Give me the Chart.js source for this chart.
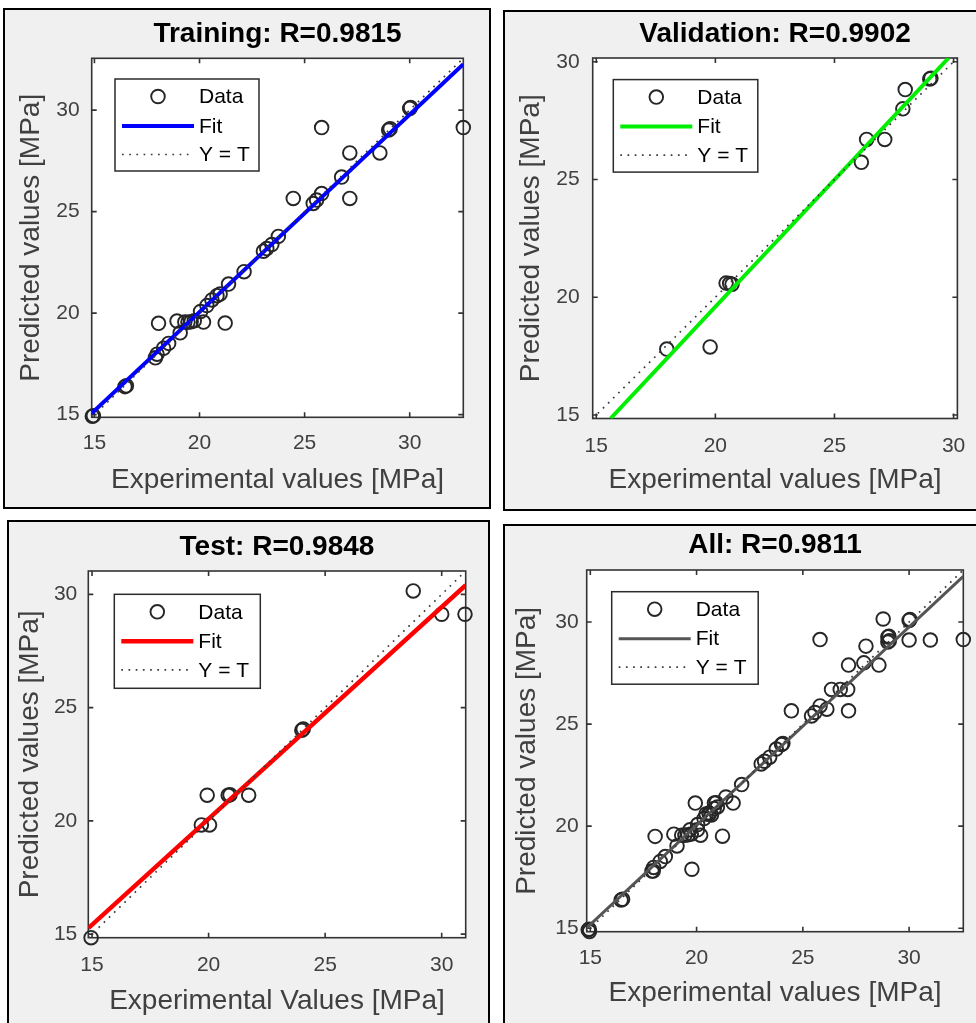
<!DOCTYPE html>
<html>
<head>
<meta charset="utf-8">
<title>Regression plots</title>
<script src="https://cdn.jsdelivr.net/npm/chart.js@4.4.1/dist/chart.umd.min.js"></script>
<style>
  html, body { margin: 0; padding: 0; background: #fff; width: 976px; height: 1023px; overflow: hidden; }
  .panel { position: absolute; box-sizing: border-box; border: 2px solid #000; background: #f0f0f0; overflow: hidden; }
  .panel canvas { position: absolute; left: 0; top: 0; }
</style>
</head>
<body>
<div class="panel" style="left:3px;top:8px;width:488px;height:501px"><canvas id="c-training" width="484" height="497"></canvas></div>
<div class="panel" style="left:503px;top:10px;width:480px;height:501px"><canvas id="c-validation" width="476" height="497"></canvas></div>
<div class="panel" style="left:7px;top:520px;width:483px;height:505px"><canvas id="c-test" width="479" height="501"></canvas></div>
<div class="panel" style="left:503px;top:524px;width:480px;height:505px"><canvas id="c-all" width="476" height="501"></canvas></div>

<script>
// ---- data ----
const axisTicks = [15, 20, 25, 30];

const trainingExperimental = [14.90, 14.95, 16.45, 16.52, 17.90, 17.98, 18.29, 18.53, 18.05, 19.08,
  18.93, 19.30, 19.45, 19.60, 19.75, 20.19, 21.22, 20.05, 20.35, 20.59, 20.83, 20.98, 21.38, 22.12,
  23.04, 23.20, 23.44, 23.75, 24.46, 25.41, 25.57, 25.81, 25.81, 26.76, 27.15, 27.15, 28.58,
  29.00, 29.07, 30.00, 30.04, 32.55];
const trainingPredicted = [14.92, 14.95, 16.38, 16.42, 17.80, 17.98, 18.27, 18.51, 19.50, 19.03,
  19.61, 19.56, 19.55, 19.58, 19.62, 19.56, 19.51, 20.08, 20.37, 20.65, 20.86, 20.94, 21.43, 22.04,
  23.05, 23.18, 23.38, 23.78, 25.65, 25.40, 25.57, 25.89, 29.14, 26.70, 25.65, 27.89, 27.89,
  29.02, 29.08, 30.08, 30.13, 29.14];
const trainingFitX = [14.87, 32.55];
const trainingFitY = [15.07, 32.26];
const trainingLimits = [14.87, 32.55];

const validationExperimental = [17.96, 19.78, 20.45, 20.60, 20.70, 26.13, 26.35, 27.11, 27.87, 27.97, 29.00, 29.05];
const validationPredicted = [17.80, 17.89, 20.60, 20.58, 20.55, 25.73, 26.70, 26.70, 28.00, 28.82, 29.27, 29.30];
const validationFitX = [15.60, 29.79];
const validationFitY = [14.85, 30.16];
const validationLimits = [14.85, 30.16];

const testExperimental = [14.96, 19.69, 20.04, 19.94, 20.84, 20.92, 21.72, 24.00, 24.06, 28.78, 30.00, 31.00];
const testPredicted = [14.84, 19.82, 19.82, 21.13, 21.13, 21.15, 21.13, 24.00, 24.05, 30.15, 29.12, 29.12];
const testFitX = [14.84, 31.03];
const testFitY = [15.26, 30.40];
const testLimits = [14.84, 31.03];

const allExperimental = [...trainingExperimental, ...validationExperimental, ...testExperimental];
const allPredicted = [...trainingPredicted, ...validationPredicted, ...testPredicted];
const allFitX = [14.83, 32.55];
const allFitY = [15.02, 32.24];
const allLimits = [14.83, 32.55];

// ---- drawing ----
const FONT = "'Liberation Sans', Arial, Helvetica, sans-serif";
const AXIS_GREY = '#404040';

const pairs = (xs, ys) => xs.map((x, i) => ({ x: x, y: ys[i] }));

// White plot box, boxed axes with inward ticks on all four sides, and the in-axes legend
const panelFrame = {
  id: 'panelFrame',
  beforeDraw(chart) {
    const { ctx, chartArea: a } = chart;
    ctx.save();
    ctx.fillStyle = '#fff';
    ctx.fillRect(a.left, a.top, a.right - a.left, a.bottom - a.top);
    ctx.restore();
  },
  beforeDatasetsDraw(chart) {
    const { ctx, chartArea: a, scales } = chart;
    ctx.save();
    ctx.strokeStyle = '#333';
    ctx.lineWidth = 1.6;
    const tl = 5;
    ctx.beginPath();
    axisTicks.forEach(v => {
      const px = scales.x.getPixelForValue(v);
      if (px > a.left + 1 && px < a.right - 1) {
        ctx.moveTo(px, a.bottom); ctx.lineTo(px, a.bottom - tl);
        ctx.moveTo(px, a.top); ctx.lineTo(px, a.top + tl);
      }
      const py = scales.y.getPixelForValue(v);
      if (py > a.top + 1 && py < a.bottom - 1) {
        ctx.moveTo(a.left, py); ctx.lineTo(a.left + tl, py);
        ctx.moveTo(a.right, py); ctx.lineTo(a.right - tl, py);
      }
    });
    ctx.stroke();
    ctx.strokeRect(a.left, a.top, a.right - a.left, a.bottom - a.top);
    ctx.restore();
  },
  afterDatasetsDraw(chart, args, o) {
    const { ctx, chartArea: a } = chart;
    const lx = a.left + o.x, ly = a.top + o.y;
    ctx.save();
    ctx.fillStyle = '#fff';
    ctx.fillRect(lx, ly, o.w, o.h);
    ctx.strokeStyle = '#2b2b2b';
    ctx.lineWidth = 1.5;
    ctx.strokeRect(lx, ly, o.w, o.h);
    const rows = chart.data.datasets.slice().reverse();
    const rowY = [17.5, 47, 75.5];
    rows.forEach((ds, i) => {
      const cy = ly + rowY[i];
      if (!ds.showLine) {
        ctx.beginPath();
        ctx.setLineDash([]);
        ctx.strokeStyle = ds.borderColor;
        ctx.lineWidth = ds.borderWidth;
        ctx.arc(lx + 43, cy, ds.pointRadius, 0, Math.PI * 2);
        ctx.stroke();
      } else {
        ctx.beginPath();
        ctx.setLineDash(ds.borderDash || []);
        ctx.strokeStyle = ds.borderColor;
        ctx.lineWidth = ds.borderWidth;
        ctx.moveTo(lx + 7, cy);
        ctx.lineTo(lx + 79, cy);
        ctx.stroke();
        ctx.setLineDash([]);
      }
      ctx.fillStyle = '#000';
      ctx.font = '21px ' + FONT;
      ctx.textBaseline = 'middle';
      ctx.textAlign = 'left';
      ctx.fillText(ds.label, lx + 84, cy + 1);
    });
    ctx.restore();
  }
};

function buildPanel(canvasId, spec) {
  const L = spec.layout;
  const lim = spec.limits;
  const fixedTicks = axis => { axis.ticks = axisTicks.map(v => ({ value: v })); };
  const tickFont = { family: FONT, size: 21 };
  const titleFont = { family: FONT, size: 28, lineHeight: 1.2 };
  new Chart(document.getElementById(canvasId), {
    type: 'scatter',
    data: {
      datasets: [
        {
          label: 'Y = T',
          data: [{ x: lim[0], y: lim[0] }, { x: lim[1], y: lim[1] }],
          showLine: true,
          borderColor: '#3a3a3a',
          borderWidth: 1.7,
          borderDash: [1.7, 5.5],
          pointRadius: 0
        },
        {
          label: 'Fit',
          data: pairs(spec.fitX, spec.fitY),
          showLine: true,
          borderColor: spec.fitColor,
          borderWidth: spec.fitWidth,
          pointRadius: 0
        },
        {
          label: 'Data',
          data: pairs(spec.xs, spec.ys),
          showLine: false,
          pointStyle: 'circle',
          pointRadius: 6.8,
          borderWidth: 1.9,
          borderColor: '#262626',
          backgroundColor: 'rgba(0,0,0,0)',
          clip: false
        }
      ]
    },
    options: {
      responsive: false,
      animation: false,
      devicePixelRatio: 1,
      events: [],
      layout: { padding: { left: 0, top: 0, bottom: 0, right: L.padRight } },
      plugins: {
        legend: { display: false },
        tooltip: { enabled: false },
        title: {
          display: true,
          text: spec.title,
          fullSize: false,
          color: '#000',
          font: { family: FONT, size: 28, weight: 'bold', lineHeight: 1.2 },
          padding: { top: L.titleY - 16.8, bottom: L.top - L.titleY - 16.8 }
        },
        panelFrame: spec.legend
      },
      scales: {
        x: {
          type: 'linear',
          min: lim[0],
          max: lim[1],
          afterBuildTicks: fixedTicks,
          afterFit: s => { s.height = L.xHeight; },
          grid: { display: false, drawTicks: false },
          border: { display: false },
          ticks: { autoSkip: false, maxRotation: 0, padding: L.xTickPad, color: AXIS_GREY, font: tickFont },
          title: { display: true, text: spec.xTitle, color: AXIS_GREY, font: titleFont,
                   padding: { top: 0, bottom: L.xTitleY } }
        },
        y: {
          type: 'linear',
          min: lim[0],
          max: lim[1],
          afterBuildTicks: fixedTicks,
          afterFit: s => { s.width = L.left; },
          grid: { display: false, drawTicks: false },
          border: { display: false },
          ticks: { autoSkip: false, padding: L.yTickPad, color: AXIS_GREY, font: tickFont },
          title: { display: true, text: 'Predicted values [MPa]', color: AXIS_GREY, font: titleFont,
                   padding: { top: L.yTitleX - 16.8, bottom: 0 } }
        }
      }
    },
    plugins: [panelFrame]
  });
}

buildPanel('c-training', {
  title: 'Training: R=0.9815',
  xTitle: 'Experimental values [MPa]',
  xs: trainingExperimental, ys: trainingPredicted,
  fitX: trainingFitX, fitY: trainingFitY, limits: trainingLimits,
  fitColor: '#0000ff', fitWidth: 4,
  layout: { left: 86.7, top: 48.3, padRight: 25.7, xHeight: 89.7, titleY: 24,
            xTickPad: 13.5, yTickPad: 12, xTitleY: 497 - 16.8 - 470, yTitleX: 26.7 },
  legend: { x: 23.3, y: 20.7, w: 144, h: 92 }
});

buildPanel('c-validation', {
  title: 'Validation: R=0.9902',
  xTitle: 'Experimental values [MPa]',
  xs: validationExperimental, ys: validationPredicted,
  fitX: validationFitX, fitY: validationFitY, limits: validationLimits,
  fitColor: '#00ee00', fitWidth: 4,
  layout: { left: 87.7, top: 46, padRight: 19.3, xHeight: 90.5, titleY: 22,
            xTickPad: 15.5, yTickPad: 13, xTitleY: 497 - 16.8 - 468, yTitleX: 25.8 },
  legend: { x: 20.6, y: 21.6, w: 144.5, h: 92.5 }
});

buildPanel('c-test', {
  title: 'Test: R=0.9848',
  xTitle: 'Experimental Values [MPa]',
  xs: testExperimental, ys: testPredicted,
  fitX: testFitX, fitY: testFitY, limits: testLimits,
  fitColor: '#ff0000', fitWidth: 4.5,
  layout: { left: 79.3, top: 49, padRight: 22.3, xHeight: 85.3, titleY: 25.3,
            xTickPad: 14.8, yTickPad: 11, xTitleY: 501 - 16.8 - 479.7, yTitleX: 21 },
  legend: { x: 26, y: 23.3, w: 146, h: 94 }
});

buildPanel('c-all', {
  title: 'All: R=0.9811',
  xTitle: 'Experimental values [MPa]',
  xs: allExperimental, ys: allPredicted,
  fitX: allFitX, fitY: allFitY, limits: allLimits,
  fitColor: '#555555', fitWidth: 3,
  layout: { left: 81.7, top: 44, padRight: 17.7, xHeight: 95.3, titleY: 19.7,
            xTickPad: 14.1, yTickPad: 8, xTitleY: 501 - 16.8 - 467.3, yTitleX: 22.5 },
  legend: { x: 25, y: 21.7, w: 146.5, h: 92.5 }
});
</script>
</body>
</html>
